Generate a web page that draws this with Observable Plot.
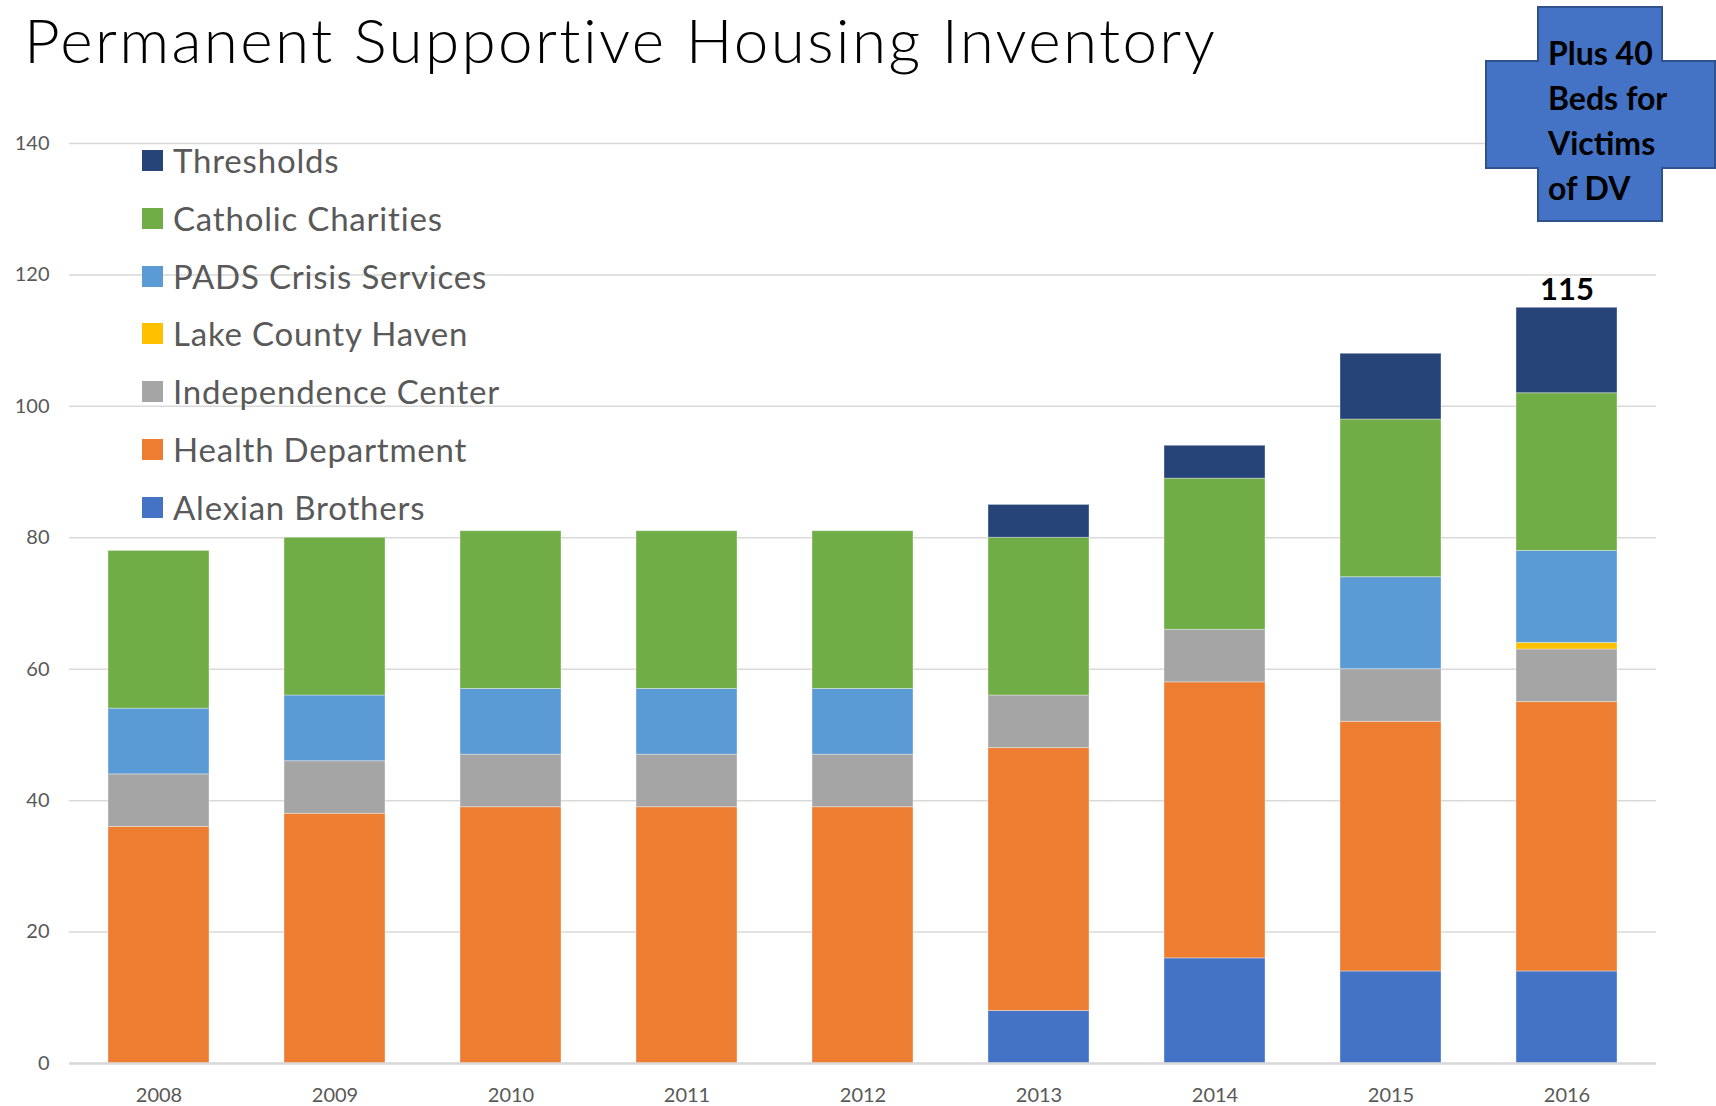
<!DOCTYPE html>
<html>
<head>
<meta charset="utf-8">
<script src="https://cdn.jsdelivr.net/npm/d3@7"></script>
<script src="https://cdn.jsdelivr.net/npm/@observablehq/plot@0.6"></script>
<style>
  html, body { margin: 0; padding: 0; background: #fff; }
  body { width: 1716px; height: 1106px; position: relative; overflow: hidden; font-family: Lato, "Open Sans", sans-serif; }
  #title { position: absolute; left: 24px; top: 2px; font-size: 62px; font-weight: 300; color: #000; white-space: nowrap; letter-spacing: 2.35px; }
  #chart { position: absolute; left: 0; top: 100px; }
  #legend { position: absolute; left: 142px; top: 150px; }
  .lg-row { position: absolute; left: 0; height: 21px; white-space: nowrap; }
  .lg-sw { position: absolute; left: 0; top: 0; width: 21px; height: 21px; }
  .lg-tx { position: absolute; left: 31px; top: -12px; font-size: 33px; color: #595959; line-height: 44px; letter-spacing: 0.8px; }
  #cross { position: absolute; left: 0; top: 0; }
</style>
</head>
<body>
<div id="title">Permanent Supportive Housing Inventory</div>
<div id="chart"></div>
<div id="legend"></div>
<svg id="cross" width="1716" height="240"></svg>
<script>
// ---- Data ----
const years = ["2008", "2009", "2010", "2011", "2012", "2013", "2014", "2015", "2016"];
const alexianBrothers      = [0, 0, 0, 0, 0, 8, 16, 14, 14];
const healthDepartment     = [36, 38, 39, 39, 39, 40, 42, 38, 41];
const independenceCenter   = [8, 8, 8, 8, 8, 8, 8, 8, 8];
const lakeCountyHaven      = [0, 0, 0, 0, 0, 0, 0, 0, 1];
const padsCrisisServices   = [10, 10, 10, 10, 10, 0, 0, 14, 14];
const catholicCharities    = [24, 24, 24, 24, 24, 24, 23, 24, 24];
const thresholds           = [0, 0, 0, 0, 0, 5, 5, 10, 13];

// stack order bottom -> top
const seriesNames = ["Alexian Brothers", "Health Department", "Independence Center", "Lake County Haven", "PADS Crisis Services", "Catholic Charities", "Thresholds"];
const seriesValues = [alexianBrothers, healthDepartment, independenceCenter, lakeCountyHaven, padsCrisisServices, catholicCharities, thresholds];
const seriesColors = ["#4472C4", "#ED7D31", "#A5A5A5", "#FFC000", "#5B9BD5", "#70AD47", "#264478"];
const yTicks = [0, 20, 40, 60, 80, 100, 120, 140];
const labelledYears = ["2016"];
const calloutLines = ["Plus 40", "Beds for", "Victims", "of DV"];

// ---- Build tidy table ----
const rows = [];
seriesNames.forEach((s, i) => {
  years.forEach((y, j) => rows.push({ year: y, series: s, value: seriesValues[i][j] }));
});
const totals = years.map((y, j) => ({ year: y, total: d3.sum(seriesValues, v => v[j]) }))
  .filter(d => labelledYears.includes(d.year));

const chart = Plot.plot({
  width: 1716,
  height: 1006,
  marginLeft: 69,
  marginRight: 60,
  marginTop: 43,
  marginBottom: 43,
  style: { fontFamily: "Lato, 'Open Sans', sans-serif", background: "transparent" },
  x: { domain: years, paddingInner: 0.425, paddingOuter: 0.2125, label: null, tickSize: 0, tickPadding: 24 },
  y: { domain: [0, 140], ticks: yTicks, label: null, tickSize: 0, tickPadding: 20 },
  color: { domain: seriesNames, range: seriesColors },
  marks: [
    Plot.gridY(yTicks, { stroke: "#D9D9D9", strokeOpacity: 1, strokeWidth: 1.5 }),
    Plot.barY(rows, { x: "year", y: "value", fill: "series", stroke: "#ffffff", strokeOpacity: 0.35, strokeWidth: 1, inset: 0 }),
    Plot.ruleY([0], { stroke: "#D9D9D9", strokeWidth: 2.5 }),
    Plot.text(totals, { x: "year", y: "total", text: d => String(d.total), dy: -8, lineAnchor: "bottom", fontSize: 31, fontWeight: "bold", fill: "#000" })
  ]
});
chart.querySelectorAll("[aria-label='x-axis tick label'], [aria-label='y-axis tick label']").forEach(g => {
  g.setAttribute("font-size", "20"); g.setAttribute("fill", "#595959");
});
document.getElementById("chart").appendChild(chart);

// ---- Legend (top series first) ----
const legend = document.getElementById("legend");
const order = seriesNames.map((s, i) => i).reverse();
order.forEach((i, k) => {
  const row = document.createElement("div");
  row.className = "lg-row";
  row.style.top = (k * 57.8) + "px";
  row.innerHTML = `<div class="lg-sw" style="background:${seriesColors[i]}"></div><div class="lg-tx">${seriesNames[i]}</div>`;
  legend.appendChild(row);
});

// ---- Cross callout ----
const svg = d3.select("#cross");
svg.append("path")
  .attr("d", "M1538,7 H1662 V61 H1715 V168 H1662 V221 H1538 V168 H1486 V61 H1538 Z")
  .attr("fill", "#4472C4").attr("stroke", "#2F528F").attr("stroke-width", 2);
svg.selectAll("text.cl").data(calloutLines).join("text")
  .attr("x", 1548).attr("y", (d, i) => 65 + i * 45)
  .attr("font-family", "Lato, 'Open Sans', sans-serif")
  .attr("font-weight", "bold").attr("font-size", 32).attr("fill", "#000")
  .text(d => d);
</script>
</body>
</html>
